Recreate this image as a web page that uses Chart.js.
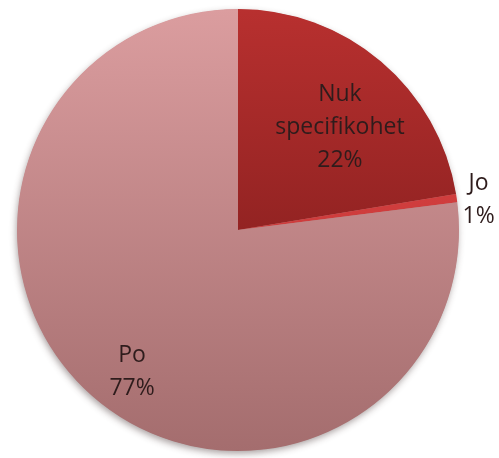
<!DOCTYPE html>
<html>
<head>
<meta charset="utf-8">
<script src="https://cdn.jsdelivr.net/npm/chart.js@4/dist/chart.umd.min.js"></script>
<style>
  html, body { margin: 0; padding: 0; background: #fff; }
  #wrap { width: 499px; height: 458px; }
</style>
</head>
<body>
<div id="wrap"><canvas id="pie"></canvas></div>
<script>
/* ===== DATA ===== */
const labels = ['Nuk\nspecifikohet', 'Jo', 'Po'];
const values = [22.4, 0.6, 77.0];

/* ===== STYLE ===== */
const GRAD_TOP    = ['#b8302f', '#e24646', '#db9d9f'];
const GRAD_BOTTOM = ['#6e1616', '#b83232', '#a46d6e'];
const LABEL_COLOR = '#2e1c1c';
const FONT = '"Open Sans", Lato, sans-serif';

// where each label sits: fraction of radius along the slice middle, plus a nudge
const LABEL_POS = [
  { r: 0.65, dx: 9,  dy: 7 },
  { r: 1.10, dx: 0,  dy: 5 },
  { r: 0.80, dx: 11, dy: 9 },
];

const total = values.reduce((a, b) => a + b, 0);
const pct = (v) => Math.round(v / total * 100) + '%';

function sliceGradient(ctx) {
  const chart = ctx.chart;
  const area = chart.chartArea;
  if (!area) return GRAD_TOP[ctx.dataIndex];
  const g = chart.ctx.createLinearGradient(0, area.top, 0, area.bottom);
  g.addColorStop(0, GRAD_TOP[ctx.dataIndex]);
  g.addColorStop(1, GRAD_BOTTOM[ctx.dataIndex]);
  return g;
}

/* ===== PLUGINS ===== */
const pieShadow = {
  id: 'pieShadow',
  beforeDatasetsDraw(chart) {
    const arc = chart.getDatasetMeta(0).data[0];
    if (!arc) return;
    const { x, y, outerRadius } = arc.getProps(['x', 'y', 'outerRadius'], true);
    const c = chart.ctx;
    c.save();
    c.shadowColor = 'rgba(60,40,40,0.45)';
    c.shadowBlur = 7;
    c.shadowOffsetX = -1;
    c.shadowOffsetY = 3;
    c.fillStyle = '#b07a7a';
    c.beginPath();
    c.arc(x, y, outerRadius - 0.5, 0, Math.PI * 2);
    c.fill();
    c.restore();
  },
};

const sliceLabels = {
  id: 'sliceLabels',
  afterDatasetsDraw(chart) {
    const c = chart.ctx;
    const meta = chart.getDatasetMeta(0);
    c.save();
    c.font = '23px ' + FONT;
    c.fillStyle = LABEL_COLOR;
    c.textAlign = 'center';
    c.textBaseline = 'middle';
    const lineH = 33;
    meta.data.forEach((arc, i) => {
      const p = arc.getProps(['x', 'y', 'startAngle', 'endAngle', 'outerRadius'], true);
      const mid = (p.startAngle + p.endAngle) / 2;
      const pos = LABEL_POS[i];
      const cx = p.x + Math.cos(mid) * p.outerRadius * pos.r + pos.dx;
      const cy = p.y + Math.sin(mid) * p.outerRadius * pos.r + pos.dy;
      const lines = labels[i].split('\n').concat(pct(values[i]));
      const top = cy - (lines.length - 1) * lineH / 2;
      lines.forEach((t, k) => c.fillText(t, cx, top + k * lineH));
    });
    c.restore();
  },
};

/* ===== CHART ===== */
new Chart(document.getElementById('pie'), {
  type: 'pie',
  data: {
    labels: labels,
    datasets: [{
      data: values,
      backgroundColor: sliceGradient,
      borderWidth: 0,
      hoverOffset: 0,
    }],
  },
  options: {
    responsive: true,
    maintainAspectRatio: false,
    animation: false,
    layout: { padding: { top: 9, bottom: 7, left: 17, right: 40 } },
    plugins: {
      legend: { display: false },
      tooltip: { enabled: false },
    },
  },
  plugins: [pieShadow, sliceLabels],
});
</script>
</body>
</html>
